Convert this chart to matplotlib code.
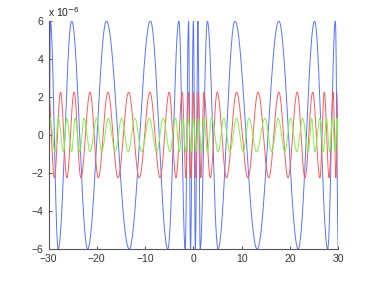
import numpy as np
import matplotlib
matplotlib.use("Agg")
import matplotlib.pyplot as plt

# Extrema (x position, value in units of 1e-6)
blue_x = [-30, -29.6, -28.0, -25.2, -21.9, -18.0, -13.3, -8.9, -5.3, -3.0, -1.7, -1.0, -0.6,
          0.0, 0.4, 0.93, 1.4, 2.9, 5.1, 8.6, 13.2, 17.7, 21.7, 25.1, 27.8, 29.4, 30]
blue_y = [-6, 6, -6, 6, -6, 6, -6, 6, -6, 6, -6, 6, -6,
          6, -6, 6, -6, 6, -6, 6, -6, 6, -6, 6, -6, 6, -6]

red_x = [-30, -28.8, -27.5, -26.2, -24.7, -23.3, -21.4, -19.7, -17.7, -15.6, -13.4, -11.2,
         -9.0, -6.9, -5.0, -3.6, -2.3, -1.55, -1.05, -0.52, 0.0, 0.52, 1.0, 1.55, 2.17, 3.5,
         4.93, 6.87, 8.94, 11.3, 13.4, 15.6, 17.7, 19.6, 21.5, 23.1, 24.7, 26.2, 27.1, 28.1,
         28.93, 29.5, 30]
red_y = [2.25, -2.25] * 21 + [2.25]

green_x = [-30, -29.7, -28.65, -27.97, -26.9, -26.23, -25.2, -24.5, -23.5, -22.65, -21.4,
           -20.03, -19.0, -17.6, -16.2, -14.85, -13.5, -12.1, -10.7, -9.14, -7.6, -6.25,
           -4.86, -3.7, -2.9, -2.2, -1.6, -1.05, -0.5, 0.0, 0.5, 1.05, 1.6, 2.2, 2.9, 3.76,
           5.13, 6.3, 7.55, 8.94, 10.3, 11.5, 13.1, 14.8, 16.2, 17.55, 18.95, 20.1, 21.4,
           22.6, 23.8, 24.5, 25.14, 26.2, 26.9, 27.55, 28.2, 28.8, 29.3, 29.76, 30]
green_y = [-0.88, 0.88] * 30 + [-0.88]

x_ticks = [-30, -20, -10, 0, 10, 20, 30]
y_ticks = [-6, -4, -2, 0, 2, 4, 6]


def smooth(xs, ys, n=40):
    """Half-cosine segments between consecutive extrema."""
    X, Y = [], []
    for i in range(len(xs) - 1):
        t = np.linspace(0, 1, n, endpoint=False)
        X.append(xs[i] + (xs[i + 1] - xs[i]) * t)
        Y.append((ys[i] + ys[i + 1]) / 2 + (ys[i] - ys[i + 1]) / 2 * np.cos(np.pi * t))
    X.append([xs[-1]])
    Y.append([ys[-1]])
    return np.concatenate(X), np.concatenate(Y) * 1e-6


plt.rcParams['font.family'] = ['Liberation Sans', 'DejaVu Sans']
fig = plt.figure(figsize=(3.74, 2.81), dpi=100)
ax = fig.add_axes([0.1297, 0.1139, 0.9045 - 0.1297, 0.9253 - 0.1139])

for xs, ys, c in [(blue_x, blue_y, (0.35, 0.45, 1.0)),
                  (red_x, red_y, (1.0, 0.35, 0.35)),
                  (green_x, green_y, (0.5, 0.95, 0.3))]:
    X, Y = smooth(xs, ys)
    ax.plot(X, Y, color=c, lw=0.7)

ax.set_xlim(-30, 30)
ax.set_ylim(-6e-6, 6e-6)
ax.set_xticks(x_ticks)
ax.set_xticklabels([str(v).replace('-', '\u2212') for v in x_ticks])
ax.set_yticks([v * 1e-6 for v in y_ticks])
ax.set_yticklabels([str(v).replace('-', '\u2212') for v in y_ticks])
ax.tick_params(direction='in', length=2.5, labelsize=7.5, width=0.6, colors='#333333')
for s in ['top', 'right']:
    ax.spines[s].set_visible(False)
for s in ['left', 'bottom']:
    ax.spines[s].set_linewidth(0.8)
    ax.spines[s].set_color('#555555')
fig.text(48 / 374, 1 - 12 / 281, 'x 10$^{-6}$', fontsize=7.5, ha='left', va='center',
         color='#222222')

fig.savefig('out.png', dpi=100)
